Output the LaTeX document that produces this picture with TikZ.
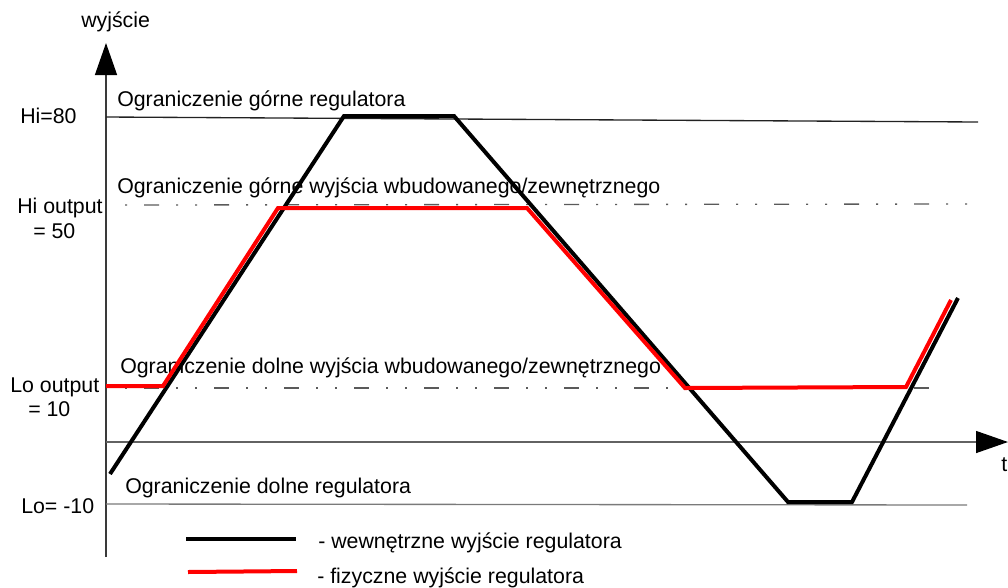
\documentclass[tikz,border=0pt]{standalone}
\usepackage{fontspec}
\setmainfont{Liberation Sans}
\usetikzlibrary{arrows.meta}
\usepackage{xcolor}
\definecolor{AxD} {HTML}{3A3A3A}
\definecolor{HiL} {HTML}{222222}
\definecolor{LoL} {HTML}{7A7A7A}
\definecolor{OutL}{HTML}{5A5A5A}
\definecolor{SigK}{HTML}{000000}
\definecolor{SigR}{HTML}{FF0000}
\tikzset{
  AXS/.style={
    line width=1pt, color=AxD,
    -{Triangle[length=24pt,width=16.5pt,color=black]}
  },
  LIM/.style={line width=1pt, color=#1},
  DDL/.style={
    line width=1pt, color=OutL,
    dash pattern=on 1.5pt off 12.75pt on 11.25pt off 12.75pt on 1.5pt off 12.75pt
  },
  SIG/.style={line width=3pt, color=#1, line join=miter},
  LBL/.style={anchor=base west, inner sep=0pt, font=\fontsize{16}{19}\selectfont},
}

\begin{document}
\begin{tikzpicture}[x=0.75pt,y=-0.75pt]
\useasboundingbox (0,0) rectangle (1008,587);

%================ AXES =================
\coordinate (org)  at (106,557);
\coordinate (ytop) at (106,43);
\coordinate (t0)   at (106,442);
\coordinate (tend) at (1008,442);

\draw[AXS] (org)--(ytop);
\draw[AXS,color=LoL!80!black] (t0)--(tend);

\node[LBL] (yname) at (81,27) {wyjście};
\node[LBL] (tname) at (1001,471) {t};

%================ LIMITS =================
\coordinate (hiA) at (106,117);
\coordinate (hiB) at (978,122);
\coordinate (loA) at (106,504);
\coordinate (loB) at (967,505);
\coordinate (hoA) at (125,205);
\coordinate (hoB) at (978,204);
\coordinate (lpA) at (125,388);
\coordinate (lpB) at (932,388);

\draw[LIM=HiL] (hiA)--(hiB);
\draw[LIM=LoL] (loA)--(loB);
\draw[DDL] (hoA)--(hoB);
\draw[DDL] (lpA)--(lpB);

\node[LBL] (hi)   at (20,123)  {Hi=80};
\node[LBL] (hoT)  at (17,213)  {Hi output};
\node[LBL] (hoV)  at (33,238)  {= 50};
\node[LBL] (loT)  at (10,392)  {Lo output};
\node[LBL] (loV)  at (28,416)  {= 10};
\node[LBL] (lo)   at (21,513)  {Lo= -10};

\node[LBL] (hiTx) at (117,106) {Ograniczenie górne regulatora};
\node[LBL] (hoTx) at (117,193) {Ograniczenie górne wyjścia wbudowanego/zewnętrznego};
\node[LBL] (lpTx) at (120,373) {Ograniczenie dolne wyjścia wbudowanego/zewnętrznego};
\node[LBL] (loTx) at (125,493) {Ograniczenie dolne regulatora};

%================ INTERNAL OUTPUT =================
\coordinate (k1) at (110,474);
\coordinate (k2) at (344,116);
\coordinate (k3) at (454,116);
\coordinate (k4) at (788,502);
\coordinate (k5) at (852,502);
\coordinate (k6) at (958,298);

\draw[SIG=SigK] (k1)--(k2)--(k3)--(k4)--(k5)--(k6);

%================ PHYSICAL OUTPUT =================
\coordinate (r1) at (106,386);
\coordinate (r2) at (163,386);
\coordinate (r3) at (278,208);
\coordinate (r4) at (527,208);
\coordinate (r5) at (685,388);
\coordinate (r6) at (906,387);
\coordinate (r7) at (951,300);

\draw[SIG=SigR] (r1)--(r2)--(r3)--(r4)--(r5)--(r6)--(r7);

%================ LEGEND =================
\coordinate (lkA) at (186,539);
\coordinate (lkB) at (296,539);
\coordinate (lrA) at (188,572);
\coordinate (lrB) at (297,571);

\draw[SIG=SigK] (lkA)--(lkB);
\draw[SIG=SigR] (lrA)--(lrB);

\node[LBL] (lk) at (318,548) {- wewnętrzne wyjście regulatora};
\node[LBL] (lr) at (317,583) {- fizyczne wyjście regulatora};

\end{tikzpicture}
\end{document}
